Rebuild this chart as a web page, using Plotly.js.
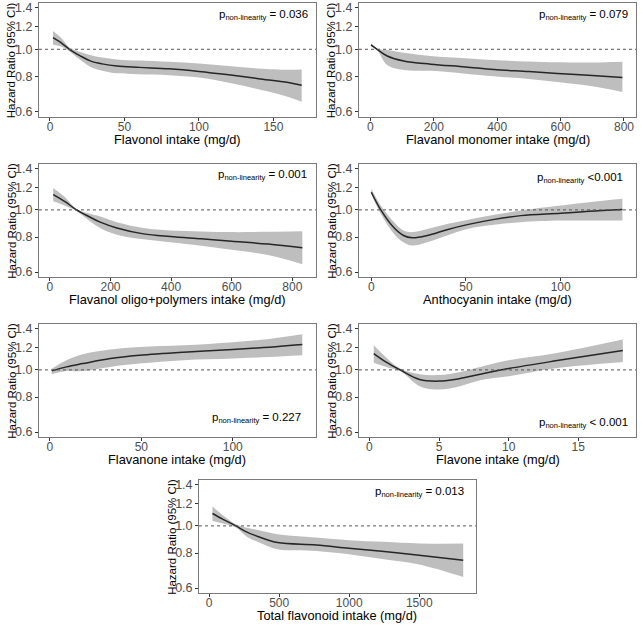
<!DOCTYPE html>
<html>
<head>
<meta charset="utf-8">
<script src="https://cdn.plot.ly/plotly-3.0.1.min.js"></script>
<style>html,body{margin:0;padding:0;background:#fff;}#chart{width:642px;height:626px;}</style>
</head>
<body>
<div id="chart"></div>
<script>
// ---- Data ----
const flavonolX  = [2, 8, 13, 20, 27, 35, 45, 60, 80, 100, 120, 140, 160, 169];
const flavonolHR = [1.10, 1.05, 1.00, 0.95, 0.91, 0.888, 0.872, 0.863, 0.853, 0.835, 0.812, 0.787, 0.763, 0.746];
const flavonolHi = [1.16, 1.09, 1.015, 0.98, 0.955, 0.935, 0.921, 0.912, 0.903, 0.89, 0.872, 0.855, 0.846, 0.848];
const flavonolLo = [1.04, 1.02, 0.985, 0.92, 0.868, 0.84, 0.822, 0.816, 0.81, 0.795, 0.762, 0.722, 0.678, 0.652];

const monomerX  = [2, 21, 53, 105, 190, 300, 390, 500, 590, 700, 795];
const monomerHR = [1.036, 1.0, 0.947, 0.909, 0.886, 0.866, 0.848, 0.834, 0.821, 0.807, 0.794];
const monomerHi = [1.05, 1.005, 0.995, 0.973, 0.947, 0.93, 0.916, 0.905, 0.899, 0.898, 0.904];
const monomerLo = [1.02, 0.995, 0.879, 0.844, 0.839, 0.82, 0.803, 0.785, 0.766, 0.74, 0.706];

const oligoX  = [11, 50, 88, 130, 166, 221, 309, 397, 500, 600, 720, 833];
const oligoHR = [1.134, 1.07, 1.0, 0.945, 0.904, 0.862, 0.821, 0.803, 0.788, 0.773, 0.755, 0.732];
const oligoHi = [1.198, 1.11, 1.008, 0.97, 0.947, 0.904, 0.862, 0.844, 0.838, 0.833, 0.835, 0.839];
const oligoLo = [1.074, 1.035, 0.99, 0.915, 0.862, 0.815, 0.785, 0.767, 0.745, 0.72, 0.69, 0.64];

const anthoX  = [0, 5, 12, 17, 21.6, 29.6, 40, 50.7, 65, 79, 100, 115, 132.6];
const anthoHR = [1.156, 1.0, 0.863, 0.81, 0.795, 0.81, 0.85, 0.886, 0.925, 0.954, 0.972, 0.988, 1.003];
const anthoHi = [1.19, 1.036, 0.904, 0.844, 0.833, 0.855, 0.89, 0.921, 0.96, 0.995, 1.036, 1.065, 1.095];
const anthoLo = [1.14, 0.968, 0.821, 0.767, 0.746, 0.767, 0.81, 0.855, 0.885, 0.904, 0.916, 0.917, 0.916];

const flavanoneX  = [1, 9, 18, 33, 49, 73, 100, 120, 138];
const flavanoneHR = [0.992, 1.025, 1.053, 1.098, 1.128, 1.157, 1.182, 1.205, 1.232];
const flavanoneHi = [1.01, 1.083, 1.137, 1.182, 1.208, 1.225, 1.256, 1.29, 1.34];
const flavanoneLo = [0.965, 0.99, 0.99, 1.025, 1.053, 1.083, 1.098, 1.112, 1.128];

const flavoneX  = [0.31, 1.2, 2.2, 3.6, 5, 6.5, 7.95, 10, 13.25, 18.2];
const flavoneHR = [1.144, 1.066, 1.0, 0.924, 0.912, 0.931, 0.965, 1.011, 1.075, 1.172];
const flavoneHi = [1.225, 1.108, 1.011, 0.965, 0.958, 0.983, 1.025, 1.083, 1.144, 1.283];
const flavoneLo = [1.06, 1.025, 0.99, 0.875, 0.851, 0.875, 0.919, 0.949, 1.011, 1.066];

const totalX  = [24, 100, 191, 270, 358, 489, 764, 998, 1250, 1499, 1814];
const totalHR = [1.107, 1.055, 1.0, 0.95, 0.913, 0.872, 0.855, 0.832, 0.81, 0.786, 0.754];
const totalHi = [1.172, 1.09, 1.014, 0.985, 0.965, 0.934, 0.909, 0.889, 0.877, 0.865, 0.865];
const totalLo = [1.042, 1.02, 0.986, 0.915, 0.872, 0.825, 0.814, 0.792, 0.76, 0.728, 0.657];

const xTitles = ['Flavonol intake (mg/d)', 'Flavanol monomer intake (mg/d)', 'Flavanol oligo+polymers intake (mg/d)',
  'Anthocyanin intake (mg/d)', 'Flavanone intake (mg/d)', 'Flavone intake (mg/d)', 'Total flavonoid intake (mg/d)'];
const pTexts = ['= 0.036', '= 0.079', '= 0.001', '<0.001', '= 0.227', '< 0.001', '= 0.013'];
const xTicks = [[0, 50, 100, 150], [0, 200, 400, 600, 800], [0, 200, 400, 600, 800], [0, 50, 100], [0, 50, 100], [0, 5, 10, 15], [0, 500, 1000, 1500]];
const yTickVals = [0.6, 0.8, 1.0, 1.2, 1.4];
const yTickText = ['0.6', '0.8', '1.0', '1.2', '1.4'];
const yTitle = 'Hazard Ratio (95% CI)';

// ---- Layout geometry ----
const panels = [
  {x: flavonolX, hr: flavonolHR, hi: flavonolHi, lo: flavonolLo, xr: [-7.4, 178.6], dx: [0.0607, 0.4922], dy: [0.8131, 0.9952], px: 0.978, py: 0.895},
  {x: monomerX, hr: monomerHR, hi: monomerHi, lo: monomerLo, xr: [-36, 838], dx: [0.5592, 0.9907], dy: [0.8131, 0.9952], px: 0.978, py: 0.895},
  {x: oligoX, hr: oligoHR, hi: oligoHi, lo: oligoLo, xr: [-36, 878], dx: [0.0607, 0.4922], dy: [0.5575, 0.738], px: 0.975, py: 0.90},
  {x: anthoX, hr: anthoHR, hi: anthoHi, lo: anthoLo, xr: [-6.5, 139.8], dx: [0.5592, 0.9907], dy: [0.5575, 0.738], px: 0.96, py: 0.88},
  {x: flavanoneX, hr: flavanoneHR, hi: flavanoneHi, lo: flavanoneLo, xr: [-6, 145.5], dx: [0.0607, 0.4922], dy: [0.3019, 0.4824], px: 0.953, py: 0.168},
  {x: flavoneX, hr: flavoneHR, hi: flavoneHi, lo: flavoneLo, xr: [-0.75, 19.15], dx: [0.5592, 0.9907], dy: [0.3019, 0.4824], px: 0.978, py: 0.124},
  {x: totalX, hr: totalHR, hi: totalHi, lo: totalLo, xr: [-72, 1905], dx: [0.310, 0.7414], dy: [0.0527, 0.2332], px: 0.964, py: 0.894}
];

const FONT = 'Liberation Sans, Arial, Helvetica, sans-serif';
const traces = [];
const layout = {
  width: 642, height: 626,
  margin: {l: 0, r: 0, t: 0, b: 0},
  paper_bgcolor: '#ffffff', plot_bgcolor: '#ffffff',
  showlegend: false,
  font: {family: FONT, color: '#000'},
  shapes: [], annotations: []
};

panels.forEach((p, i) => {
  const n = i + 1;
  const xa = n === 1 ? 'x' : 'x' + n;
  const ya = n === 1 ? 'y' : 'y' + n;
  traces.push({x: p.x, y: p.lo, xaxis: xa, yaxis: ya, type: 'scatter', mode: 'lines',
    line: {width: 0, shape: 'spline', smoothing: 1}, hoverinfo: 'skip'});
  traces.push({x: p.x, y: p.hi, xaxis: xa, yaxis: ya, type: 'scatter', mode: 'lines', fill: 'tonexty',
    fillcolor: '#bebebe', line: {width: 0, shape: 'spline', smoothing: 1}, hoverinfo: 'skip'});
  traces.push({x: p.x, y: p.hr, xaxis: xa, yaxis: ya, type: 'scatter', mode: 'lines',
    line: {color: '#262626', width: 1.5, shape: 'spline', smoothing: 1}});

  const xKey = n === 1 ? 'xaxis' : 'xaxis' + n;
  const yKey = n === 1 ? 'yaxis' : 'yaxis' + n;
  layout[xKey] = {
    domain: p.dx, anchor: ya, range: p.xr, showgrid: false, zeroline: false, automargin: false,
    showline: true, mirror: true, linecolor: '#7a7a7a', linewidth: 1,
    ticks: 'outside', ticklen: 3, tickcolor: '#333', tickwidth: 1, ticklabelstandoff: -4,
    tickmode: 'array', tickvals: xTicks[i],
    tickfont: {family: FONT, size: 12, color: '#4d4d4d'}
  };
  layout[yKey] = {
    domain: p.dy, anchor: xa, type: 'log', range: [Math.log10(0.576), Math.log10(1.458)],
    showgrid: false, zeroline: false, automargin: false,
    showline: true, mirror: true, linecolor: '#7a7a7a', linewidth: 1,
    ticks: 'outside', ticklen: 3, tickcolor: '#333', tickwidth: 1,
    tickmode: 'array', tickvals: yTickVals, ticktext: yTickText,
    tickfont: {family: FONT, size: 12.5, color: '#4d4d4d'}
  };
  layout.shapes.push({type: 'line', xref: xa + ' domain', yref: ya, x0: 0, x1: 1, y0: 1, y1: 1,
    line: {color: '#555', width: 1, dash: 'dot'}, layer: 'above'});
  // p for non-linearity
  layout.annotations.push({xref: xa + ' domain', yref: ya + ' domain', x: p.px, y: p.py,
    xanchor: 'right', yanchor: 'middle', showarrow: false,
    text: 'p<sub><span style="font-size:7.5px">non-linearity</span></sub> ' + pTexts[i],
    font: {family: FONT, size: 11.5, color: '#000'}});
  // x axis title
  layout.annotations.push({xref: xa + ' domain', yref: ya + ' domain', x: 0.5, y: -0.2,
    xanchor: 'center', yanchor: 'middle', showarrow: false,
    text: xTitles[i], font: {family: FONT, size: 12.8, color: '#000'}});
  // y axis title
  layout.annotations.push({xref: xa + ' domain', yref: ya + ' domain', x: -0.1, y: 0.5,
    xanchor: 'center', yanchor: 'middle', showarrow: false, textangle: -90,
    text: yTitle, font: {family: FONT, size: 11.5, color: '#000'}});
});

Plotly.newPlot('chart', traces, layout, {displayModeBar: false, staticPlot: true});
</script>
</body>
</html>
